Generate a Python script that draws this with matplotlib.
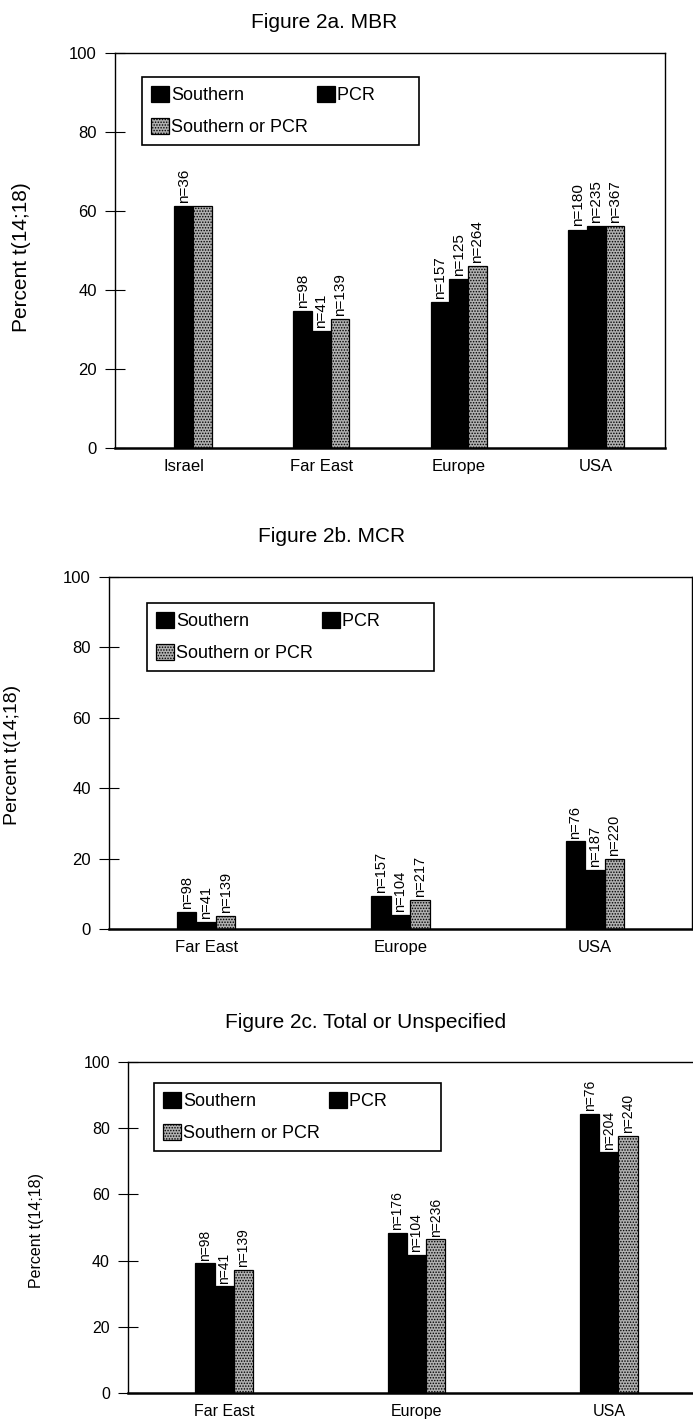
import numpy as np
import matplotlib
matplotlib.use("Agg")
import matplotlib.pyplot as plt

plt.rcParams['font.family'] = ['Liberation Sans', 'DejaVu Sans']
plt.rcParams['hatch.color'] = '#555555'
plt.rcParams['hatch.linewidth'] = 0.7

series = ['Southern', 'PCR', 'Southern or PCR']

# Figure 2a. MBR
mbr_regions = ['Israel', 'Far East', 'Europe', 'USA']
mbr_southern = [np.nan, 34.6, 36.9, 55.3]
mbr_pcr = [61.3, 29.7, 42.8, 56.1]
mbr_either = [61.3, 32.7, 46.0, 56.1]
mbr_n_southern = ['', 'n=98', 'n=157', 'n=180']
mbr_n_pcr = ['n=36', 'n=41', 'n=125', 'n=235']
mbr_n_either = ['', 'n=139', 'n=264', 'n=367']

# Figure 2b. MCR
mcr_regions = ['Far East', 'Europe', 'USA']
mcr_southern = [4.8, 9.3, 24.9]
mcr_pcr = [1.9, 4.1, 16.9]
mcr_either = [3.8, 8.2, 19.8]
mcr_n_southern = ['n=98', 'n=157', 'n=76']
mcr_n_pcr = ['n=41', 'n=104', 'n=187']
mcr_n_either = ['n=139', 'n=217', 'n=220']

# Figure 2c. Total or Unspecified
tot_regions = ['Far East', 'Europe', 'USA']
tot_southern = [39.2, 48.4, 84.4]
tot_pcr = [32.2, 41.7, 72.7]
tot_either = [37.2, 46.4, 77.6]
tot_n_southern = ['n=98', 'n=176', 'n=76']
tot_n_pcr = ['n=41', 'n=104', 'n=204']
tot_n_either = ['n=139', 'n=236', 'n=240']

W, H = 693, 1421
fig = plt.figure(figsize=(W / 100, H / 100), dpi=100)

GRAY = '#b0b0b0'


def px_axes(left, right, top, bottom):
    return fig.add_axes([left / W, 1 - bottom / H, (right - left) / W, (bottom - top) / H])


def panel(ax, regions, vals, labels, width, fs_tick, fs_n, leg_box, pcr_pad):
    x = np.arange(len(regions)) + 0.5
    styles = [dict(color='black'), dict(color='black'),
              dict(facecolor=GRAY, hatch='......')]
    handles = []
    for i, (v, lab, st) in enumerate(zip(vals, labels, styles)):
        pos = x + (i - 1) * width
        b = ax.bar(pos, v, width, edgecolor='black', linewidth=0.9, label=series[i], **st)
        handles.append(b)
        for xp, yv, t in zip(pos, v, lab):
            if t and not np.isnan(yv):
                ax.text(xp, yv + 0.8, t, rotation=90, ha='center', va='bottom',
                        fontsize=fs_n)
    ax.set_xlim(0, len(regions))
    ax.set_ylim(0, 100)
    ax.set_yticks([0, 20, 40, 60, 80, 100])
    ax.set_xticks(x)
    ax.set_xticklabels(regions, fontsize=fs_tick)
    ax.tick_params(axis='x', length=0, pad=8)
    ax.tick_params(axis='y', direction='inout', length=14, width=0.8, labelsize=fs_tick, pad=6)
    for s in ax.spines.values():
        s.set_linewidth(1.0)
    ax.spines['bottom'].set_linewidth(1.8)
    order = [handles[0], handles[2], handles[1]]
    lx0, ly0 = leg_box
    leg = ax.legend(order, [series[0], series[2], series[1] + pcr_pad], ncol=2,
                    loc='upper left', bbox_to_anchor=(lx0 / W, 1 - ly0 / H),
                    bbox_transform=fig.transFigure, frameon=True, fancybox=False,
                    edgecolor='black', framealpha=1, handlelength=1.0, handleheight=1.0,
                    handletextpad=0.1, columnspacing=0.5, borderpad=0.5,
                    borderaxespad=0, labelspacing=0.75, fontsize=13)
    leg.get_frame().set_linewidth(1.2)


# panel a
ax1 = px_axes(115, 665, 53, 448)
panel(ax1, mbr_regions, [mbr_southern, mbr_pcr, mbr_either],
      [mbr_n_southern, mbr_n_pcr, mbr_n_either], 0.136, 12, 11, (142, 77), '       ')
fig.text(324 / W, 1 - 23 / H, 'Figure 2a. MBR', ha='center', va='center', fontsize=15)
fig.text(22 / W, 1 - 257 / H, 'Percent t(14;18)', rotation=90, ha='center', va='center',
         fontsize=15)

# panel b
ax2 = px_axes(109, 692, 577, 929)
panel(ax2, mcr_regions, [mcr_southern, mcr_pcr, mcr_either],
      [mcr_n_southern, mcr_n_pcr, mcr_n_either], 0.10, 12, 10.5, (147, 603), '         ')
fig.text(332 / W, 1 - 537 / H, 'Figure 2b. MCR', ha='center', va='center', fontsize=15)
fig.text(13 / W, 1 - 755 / H, 'Percent t(14;18)', rotation=90, ha='center', va='center',
         fontsize=14)

# panel c
ax3 = px_axes(128, 705, 1062, 1393)
panel(ax3, tot_regions, [tot_southern, tot_pcr, tot_either],
      [tot_n_southern, tot_n_pcr, tot_n_either], 0.10, 11.5, 10, (154, 1083), '         ')
fig.text(366 / W, 1 - 1023 / H, 'Figure 2c. Total or Unspecified', ha='center', va='center',
         fontsize=15)
fig.text(36 / W, 1 - 1230 / H, 'Percent t(14;18)', rotation=90, ha='center', va='center',
         fontsize=11.5)

fig.savefig('out.png', dpi=100)
